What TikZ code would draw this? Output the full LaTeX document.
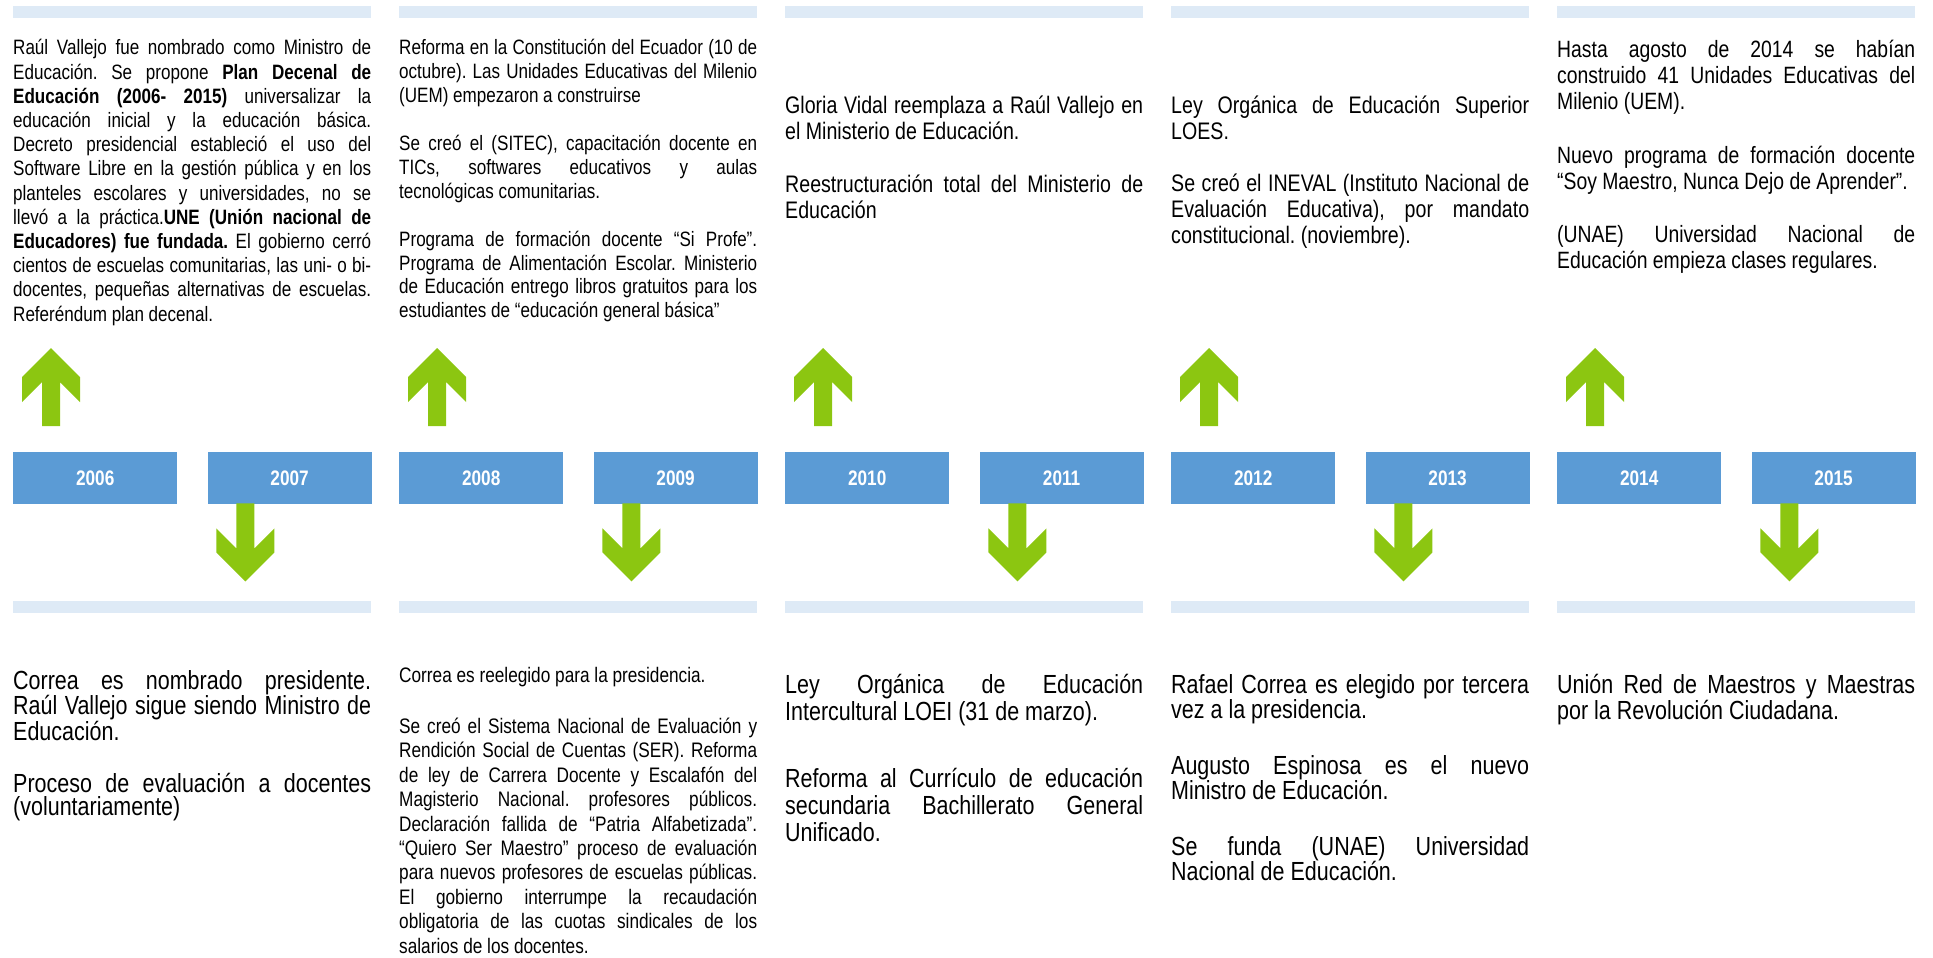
\documentclass[tikz,border=0pt]{standalone}
\usepackage{fontspec}
\setmainfont{Liberation Sans}[FakeStretch=0.82]
\usepackage{xcolor}
\usetikzlibrary{positioning}
\definecolor{timelineblue}{RGB}{91,155,213}
\definecolor{timelinepale}{RGB}{222,234,246}
\definecolor{timelinegreen}{RGB}{140,198,17}
\hyphenpenalty=10000
\exhyphenpenalty=10000
\setlength{\lineskiplimit}{-100pt}
\frenchspacing

\begin{document}
\begin{tikzpicture}[x=1pt, y=-1pt]
    \tikzstyle{yearbox} = [rectangle, fill=timelineblue, text=white, font=\fontsize{21}{24}\selectfont\bfseries, minimum width=164pt, minimum height=52pt, inner sep=0pt]
    \tikzstyle{bar} = [rectangle, fill=timelinepale, minimum width=358pt, minimum height=12pt, inner sep=0pt, anchor=north west]
    \tikzstyle{event} = [text width=358pt, inner sep=0pt, align=justify, anchor=base west]
    \tikzstyle{arrowshape} = [fill=timelinegreen]

    \useasboundingbox (0,0) rectangle (1933,958);

    % columns: bars, year boxes, arrows
    \foreach \i/\ya/\yb in {0/2006/2007, 1/2008/2009, 2/2010/2011, 3/2012/2013, 4/2014/2015} {
        \pgfmathsetmacro{\cx}{13+386*\i}
        \node[bar] (top\i) at (\cx,6) {};
        \node[bar] (bottom\i) at (\cx,601) {};
        \node[yearbox, anchor=north west] (y\ya) at (\cx,452) {\ya};
        \node[yearbox, right=30pt of y\ya] (y\yb) {\yb};
        \fill[arrowshape, shift={(y\ya.north west)}] (38,-104) -- (67,-75) -- (67,-50) -- (47,-70) -- (47,-26)
            -- (29,-26) -- (29,-70) -- (9,-50) -- (9,-75) -- cycle;
        \fill[arrowshape, shift={(y\yb.south west)}] (29,-1) -- (47,-1) -- (47,44) -- (67,24) -- (67,48)
            -- (38,77) -- (9,48) -- (9,24) -- (29,44) -- cycle;
    }

    % above the line
    \node[event, font=\fontsize{20.8}{24.2}\selectfont] (e2006) at (13,55) {Raúl Vallejo fue nombrado como Ministro de\linebreak
        Educación. Se propone \textbf{Plan Decenal de\linebreak
        Educación (2006- 2015)} universalizar la\linebreak
        educación inicial y la educación básica.\linebreak
        Decreto presidencial estableció el uso del\linebreak
        Software Libre en la gestión pública y en los\linebreak
        planteles escolares y universidades, no se\linebreak
        llevó a la práctica.\textbf{UNE (Unión nacional de\linebreak
        Educadores) fue fundada.} El gobierno cerró\linebreak
        cientos de escuelas comunitarias, las uni- o bi-\linebreak
        docentes, pequeñas alternativas de escuelas.\linebreak
        Referéndum plan decenal.};
    \node[event, font=\fontsize{20.8}{23.9}\selectfont] (e2008) at (399,55) {Reforma en la Constitución del Ecuador (10 de\linebreak
        octubre). Las Unidades Educativas del Milenio\linebreak
        (UEM) empezaron a construirse\\[23.9pt]
        Se creó el (SITEC), capacitación docente en\linebreak
        TICs, softwares educativos y aulas\linebreak
        tecnológicas comunitarias.\\[23.9pt]
        Programa de formación docente “Si Profe”.\linebreak
        Programa de Alimentación Escolar. Ministerio\linebreak
        de Educación entrego libros gratuitos para los\linebreak
        estudiantes de “educación general básica”};
    \node[event, font=\fontsize{23.9}{26.5}\selectfont] (e2010) at (785,113) {Gloria Vidal reemplaza a Raúl Vallejo en\linebreak
        el Ministerio de Educación.\\[26pt]
        Reestructuración total del Ministerio de\linebreak
        Educación};
    \node[event, font=\fontsize{23.9}{26}\selectfont] (e2012) at (1171,113) {Ley Orgánica de Educación Superior\linebreak
        LOES.\\[26.5pt]
        Se creó el INEVAL (Instituto Nacional de\linebreak
        Evaluación Educativa), por mandato\linebreak
        constitucional. (noviembre).};
    \node[event, font=\fontsize{23.6}{25.8}\selectfont] (e2014) at (1557,58) {Hasta agosto de 2014 se habían\linebreak
        construido 41 Unidades Educativas del\linebreak
        Milenio (UEM).\\[28pt]
        Nuevo programa de formación docente\linebreak
        “Soy Maestro, Nunca Dejo de Aprender”.\\[28pt]
        (UNAE) Universidad Nacional de\linebreak
        Educación empieza clases regulares.};

    % below the line
    \node[event, font=\fontsize{26.2}{23.5}\selectfont] (e2007) at (13,689) {Correa es nombrado presidente.\linebreak
        Raúl Vallejo sigue siendo Ministro de\linebreak
        Educación.\\[28.5pt]
        Proceso de evaluación a docentes\linebreak
        (voluntariamente)};
    \node[event, font=\fontsize{21}{24.4}\selectfont] (e2009) at (399,682) {Correa es reelegido para la presidencia.\\[27pt]
        Se creó el Sistema Nacional de Evaluación y\linebreak
        Rendición Social de Cuentas (SER). Reforma\linebreak
        de ley de Carrera Docente y Escalafón del\linebreak
        Magisterio Nacional. profesores públicos.\linebreak
        Declaración fallida de “Patria Alfabetizada”.\linebreak
        “Quiero Ser Maestro” proceso de evaluación\linebreak
        para nuevos profesores de escuelas públicas.\linebreak
        El gobierno interrumpe la recaudación\linebreak
        obligatoria de las cuotas sindicales de los\linebreak
        salarios de los docentes.};
    \node[event, font=\fontsize{26.2}{27.2}\selectfont] (e2011) at (785,693) {Ley Orgánica de Educación\linebreak
        Intercultural LOEI (31 de marzo).\\[40pt]
        Reforma al Currículo de educación\linebreak
        secundaria Bachillerato General\linebreak
        Unificado.};
    \node[event, font=\fontsize{26.2}{25.5}\selectfont] (e2013) at (1171,693) {Rafael Correa es elegido por tercera\linebreak
        vez a la presidencia.\\[30pt]
        Augusto Espinosa es el nuevo\linebreak
        Ministro de Educación.\\[30pt]
        Se funda (UNAE) Universidad\linebreak
        Nacional de Educación.};
    \node[event, font=\fontsize{26.2}{26}\selectfont] (e2015) at (1557,693) {Unión Red de Maestros y Maestras\linebreak
        por la Revolución Ciudadana.};
\end{tikzpicture}
\end{document}
